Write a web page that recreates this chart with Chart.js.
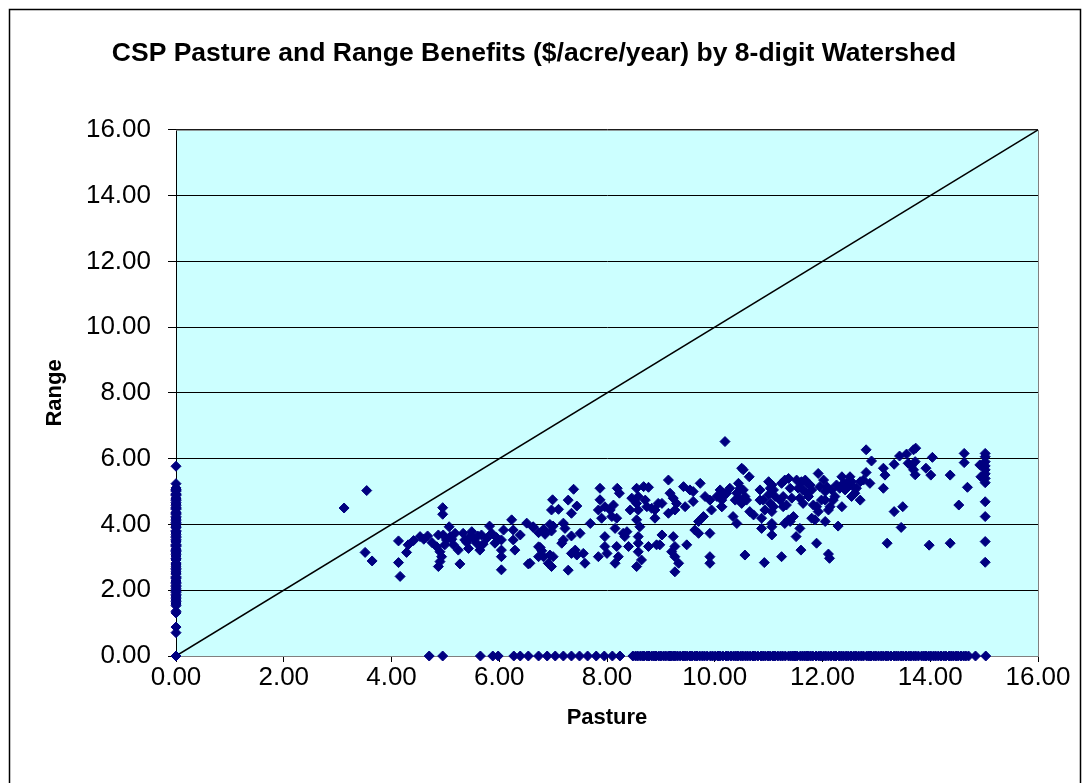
<!DOCTYPE html>
<html>
<head>
<meta charset="utf-8">
<title>CSP Pasture and Range Benefits</title>
<script src="https://cdn.jsdelivr.net/npm/chart.js@4"></script>
<style>
  body { margin: 0; background: #ffffff; }
  #wrap { width: 1082px; height: 783px; }
</style>
</head>
<body>
<div id="wrap"><canvas id="cspChart" width="1082" height="783"></canvas></div>
<script>
// watersheds with both pasture and range benefit ($/acre/year)
const pasture = [
    3.54,3.12,3.51,3.64,4.13,4.13,4.16,4.28,4.31,4.41,4.53,4.67,4.95,4.95,4.87,4.84,4.90,4.93,4.90,4.87,
    4.96,5.02,4.99,5.07,5.09,5.15,5.24,5.18,5.27,5.33,5.36,5.43,5.49,5.52,5.58,5.64,5.67,5.77,5.82,5.86,
    5.92,6.04,6.04,6.04,6.04,6.08,6.23,6.26,6.26,6.29,6.39,6.51,6.63,6.54,6.73,6.73,5.40,5.60,5.70,5.95,
    5.45,5.12,4.75,4.60,
    6.63,6.57,6.73,6.82,6.85,6.94,7.00,6.97,6.76,6.79,6.82,6.91,6.97,7.00,6.94,6.99,6.97,7.10,
    7.19,7.22,7.19,7.16,7.34,7.28,7.38,7.28,7.34,7.44,7.34,7.41,7.44,7.50,7.56,7.59,7.69,
    7.87,7.87,7.84,7.90,7.96,8.06,8.12,8.09,8.18,8.15,7.96,7.84,7.96,8.00,8.15,8.18,8.21,8.19,8.23,8.30,
    8.33,8.37,8.40,8.43,8.46,8.55,8.58,8.55,8.58,8.55,8.61,8.58,8.58,8.58,8.55,8.64,8.68,8.77,8.71,8.74,
    8.77,8.83,8.89,8.89,8.95,9.02,8.92,8.98,9.02,9.14,9.17,9.23,9.14,9.26,9.29,9.23,9.26,9.20,9.26,9.33,
    9.26,9.42,9.45,9.48,9.54,9.60,9.60,9.73,9.63,9.70,9.70,9.79,9.82,9.91,9.91,9.91,9.94,9.91,10.04,10.13,
    10.13,10.16,10.22,10.19,
    10.50,10.53,10.64,10.10,10.16,10.13,10.28,10.44,10.47,10.53,10.56,10.59,10.44,10.41,10.38,10.50,
    10.34,10.41,10.65,10.72,10.84,10.84,10.90,10.87,10.87,10.93,11.00,11.03,11.00,11.06,11.09,11.12,11.03,
    11.09,11.06,11.06,11.06,11.06,10.56,10.92,11.24,11.21,11.27,11.24,11.30,11.37,11.40,11.43,11.27,11.33,
    11.30,11.37,11.43,11.46,11.40,11.58,11.51,11.60,11.52,11.61,11.68,11.71,11.77,11.55,11.64,11.71,11.58,
    11.64,11.74,11.80,11.80,11.86,11.89,11.92,11.83,11.89,11.92,11.95,12.02,12.05,12.08,11.98,12.05,12.11,
    12.14,12.05,12.11,12.13,12.17,12.23,12.26,12.20,12.29,12.36,12.39,12.32,12.42,12.45,12.48,12.36,12.51,
    12.54,12.57,12.60,12.54,12.63,12.70,12.70,12.76,12.81,12.91,12.81,12.88,
    13.13,13.16,13.13,13.33,13.49,13.46,13.20,13.33,13.43,13.56,13.69,13.73,13.59,13.65,13.69,13.72,13.72,
    13.92,14.01,14.04,13.98,14.37,14.53,14.37,14.63,14.63,14.69,
    15.02,15.02,15.02,15.02,15.02,15.02,15.02,15.02,15.02,15.02,15.02,15.02,14.92,14.94
];
const range = [
    5.03,4.50,3.15,2.89,3.50,2.84,2.42,3.15,3.38,3.51,3.63,3.65,4.51,4.31,3.68,3.32,3.17,3.02,2.87,2.72,
    3.68,3.53,3.38,3.93,3.63,3.38,3.22,3.73,2.80,3.73,3.53,3.27,3.78,3.58,3.43,3.22,3.68,3.58,3.95,3.73,
    3.43,3.53,3.22,3.02,2.62,3.83,4.14,3.83,3.53,3.22,3.68,4.04,3.91,2.80,3.32,3.02,3.45,3.65,3.40,3.60,
    3.60,3.55,3.45,3.55,
    3.93,2.82,3.75,3.85,3.70,4.00,3.95,3.80,3.30,3.20,3.02,2.82,2.72,3.02,3.07,4.75,4.44,4.46,
    4.04,3.88,3.53,3.43,3.65,2.61,5.07,4.74,4.34,4.56,3.12,3.22,3.07,3.73,3.12,2.82,4.03,
    5.10,4.75,4.44,4.19,4.54,4.44,4.59,4.24,4.19,3.88,3.63,3.02,3.33,3.12,2.82,3.33,3.02,5.10,4.95,3.73,
    3.63,3.78,3.33,4.44,4.80,5.10,4.85,4.64,4.44,4.14,3.93,3.63,3.43,3.17,2.72,2.92,5.15,5.13,4.74,4.54,
    3.33,4.49,4.44,4.19,4.64,4.64,3.38,3.38,3.68,5.35,4.95,4.80,4.34,4.44,4.64,3.63,3.33,3.17,3.02,2.82,
    2.56,5.15,4.54,3.38,5.05,5.00,4.70,5.25,3.83,3.73,4.09,4.24,4.85,3.73,3.02,2.82,4.44,4.74,4.85,4.74,
    4.54,4.95,4.95,6.52,
    5.71,5.66,5.45,5.05,4.85,4.54,5.10,5.25,5.10,5.05,4.85,4.74,4.80,4.95,4.74,4.64,
    4.24,4.03,4.39,4.29,5.05,4.74,4.74,4.19,3.88,4.44,5.30,5.10,4.90,5.20,5.05,4.85,4.64,
    4.54,4.03,3.93,3.68,4.39,3.07,2.84,3.02,4.74,4.85,5.25,5.35,5.40,5.10,4.80,4.54,4.59,
    4.03,4.14,4.19,4.24,4.09,3.88,3.63,3.22,5.35,5.30,5.35,5.25,5.20,5.10,5.05,4.95,4.80,
    4.64,4.85,5.05,4.19,4.14,4.54,4.39,4.59,3.43,5.55,5.15,5.35,5.00,5.15,4.74,4.74,4.44,
    4.54,4.09,3.10,2.97,5.05,4.85,5.20,4.74,3.95,5.45,5.25,5.10,5.05,5.25,5.15,4.54,5.45,
    5.30,5.15,4.95,4.85,5.10,5.30,4.74,5.35,6.27,5.93,5.58,5.25,
    5.71,5.50,5.10,4.39,4.54,3.91,3.43,5.83,6.08,6.14,6.27,6.32,5.86,5.78,5.66,5.51,5.91,
    5.71,5.50,6.04,3.37,5.50,4.59,3.43,6.16,5.88,5.13,
    6.16,6.06,5.91,5.78,5.66,5.54,5.40,5.27,4.69,4.24,3.48,2.85,5.81,5.45
];

// watersheds with no pasture benefit (pasture = 0)
const rangeAtZeroPasture = [
    0.00,0.71,0.88,1.31,1.36,1.53,1.58,1.61,1.66,1.70,1.74,1.79,1.83,1.87,1.93,1.97,2.01,2.06,2.11,2.15,
    2.21,2.24,2.28,2.35,2.38,2.41,2.49,2.52,2.56,2.62,2.66,2.71,2.77,2.80,2.83,2.92,2.95,2.97,3.04,3.08,
    3.13,3.18,3.21,3.25,3.33,3.36,3.39,3.47,3.50,3.54,3.60,3.64,3.69,3.74,3.78,3.81,3.90,3.92,3.95,4.02,
    4.06,4.11,4.16,4.20,4.24,4.31,4.34,4.37,4.46,4.49,4.52,4.58,4.62,4.67,4.73,4.77,4.80,4.88,4.91,4.93,
    5.01,5.04,5.06,5.11,5.24,5.77
];

// watersheds with no range benefit (range = 0)
const pastureAtZeroRange = [
    4.70,4.95,5.65,5.88,5.98,6.27,6.39,6.54,6.73,6.89,7.04,7.19,7.34,7.49,7.64,7.80,7.95,8.10,8.24,
    8.48,8.53,8.57,8.62,8.66,8.69,8.74,8.78,8.83,8.87,8.91,8.96,9.00,9.05,9.09,9.14,9.17,9.20,9.24,9.27,
    9.31,9.36,9.41,9.45,9.49,9.54,9.58,9.63,9.67,9.72,9.77,9.81,9.86,9.92,9.96,10.01,10.06,10.10,10.15,
    10.21,10.25,10.30,10.35,10.39,10.43,10.48,10.52,10.57,10.61,10.66,10.71,10.75,10.80,10.86,10.90,10.94,
    10.99,11.03,11.08,11.12,11.17,11.22,11.26,11.31,11.37,11.41,11.45,11.49,11.53,11.59,11.63,11.67,11.71,
    11.74,11.78,11.82,11.88,11.93,11.97,12.02,12.06,12.11,12.16,12.21,12.25,12.31,12.35,12.39,12.44,12.48,
    12.53,12.58,12.62,12.67,12.72,12.76,12.82,12.86,12.90,12.95,12.99,13.04,13.09,13.13,13.18,13.22,13.27,
    13.33,13.37,13.41,13.46,13.50,13.55,13.60,13.64,13.69,13.73,13.78,13.84,13.88,13.92,13.97,14.01,14.06,
    14.10,14.15,14.20,14.25,14.29,14.35,14.39,14.43,14.48,14.52,14.57,14.62,14.66,14.71,14.84,15.03
];

// 1:1 reference line
const oneToOne = [0, 16];

const axisTicks = [0, 2, 4, 6, 8, 10, 12, 14, 16];

const FONT = "'Liberation Sans', Arial, sans-serif";
const NAVY = "#000080";

const points = pasture.map((p, i) => ({x: p, y: range[i]}))
    .concat(rangeAtZeroPasture.map(r => ({x: 0, y: r})))
    .concat(pastureAtZeroRange.map(p => ({x: p, y: 0})));

const plotFrame = {
    id: "plotFrame",
    beforeDraw(chart) {
        const {ctx, chartArea: a} = chart;
        ctx.save();
        ctx.fillStyle = "#ccffff";
        ctx.fillRect(a.left, a.top, a.right - a.left, a.bottom - a.top);
        ctx.restore();
    },
    beforeDatasetsDraw(chart) {
        const {ctx, chartArea: a} = chart;
        ctx.save();
        ctx.strokeStyle = "#808080";
        ctx.lineWidth = 1;
        ctx.beginPath();
        ctx.moveTo(a.left, a.top + 0.5);
        ctx.lineTo(a.right + 0.5, a.top + 0.5);
        ctx.lineTo(a.right + 0.5, a.bottom);
        ctx.stroke();
        ctx.restore();
    },
    afterDraw(chart) {
        const ctx = chart.ctx;
        ctx.save();
        ctx.strokeStyle = "#000000";
        ctx.lineWidth = 1.5;
        ctx.strokeRect(9.5, 9.5, 1071, 800);
        ctx.restore();
    }
};

new Chart(
    document.getElementById("cspChart"),
    {
        type: "scatter",

        data: {
            datasets: [
                {
                    label: "Watersheds",
                    data: points,
                    pointStyle: "rectRot",
                    pointRadius: 5,
                    backgroundColor: NAVY,
                    borderColor: NAVY,
                    borderWidth: 1,
                    clip: false,
                    order: 0
                },
                {
                    label: "1:1",
                    type: "line",
                    data: oneToOne.map(v => ({x: v, y: v})),
                    borderColor: "#000000",
                    borderWidth: 1.5,
                    pointRadius: 0,
                    fill: false,
                    order: 10
                }
            ]
        },

        options: {
            responsive: false,
            animation: false,
            layout: {
                padding: {left: 30, right: 44, top: 0, bottom: 40}
            },
            plugins: {
                legend: {display: false},
                tooltip: {enabled: false},
                title: {
                    display: true,
                    text: "CSP Pasture and Range Benefits ($/acre/year) by 8-digit Watershed",
                    color: "#000000",
                    font: {family: FONT, size: 26.5, weight: "bold"},
                    padding: {top: 38, bottom: 60}
                }
            },
            scales: {
                x: {
                    type: "linear",
                    min: 0,
                    max: 16,
                    afterBuildTicks: s => { s.ticks = axisTicks.map(v => ({value: v})); },
                    afterFit: s => { s.height = 87; },
                    ticks: {
                        color: "#000000",
                        font: {family: FONT, size: 26, lineHeight: 1},
                        padding: 3,
                        maxRotation: 0,
                        callback: v => Number(v).toFixed(2)
                    },
                    grid: {
                        drawOnChartArea: false,
                        color: "#000000",
                        tickLength: 6
                    },
                    border: {color: "#808080", width: 1},
                    title: {
                        display: true,
                        text: "Pasture",
                        color: "#000000",
                        font: {family: FONT, size: 22, weight: "bold"},
                        padding: {top: 4, bottom: 12}
                    }
                },
                y: {
                    min: 0,
                    max: 16,
                    afterBuildTicks: s => { s.ticks = axisTicks.map(v => ({value: v})); },
                    afterFit: s => { s.width = 146; },
                    ticks: {
                        color: "#000000",
                        font: {family: FONT, size: 26},
                        padding: 17,
                        callback: v => Number(v).toFixed(2)
                    },
                    grid: {
                        color: "#000000",
                        tickLength: 8
                    },
                    border: {color: "#000000", width: 1},
                    title: {
                        display: true,
                        text: "Range",
                        color: "#000000",
                        font: {family: FONT, size: 22, weight: "bold"},
                        padding: {top: 12, bottom: 4}
                    }
                }
            }
        },

        plugins: [plotFrame]
    }
);
</script>
</body>
</html>
